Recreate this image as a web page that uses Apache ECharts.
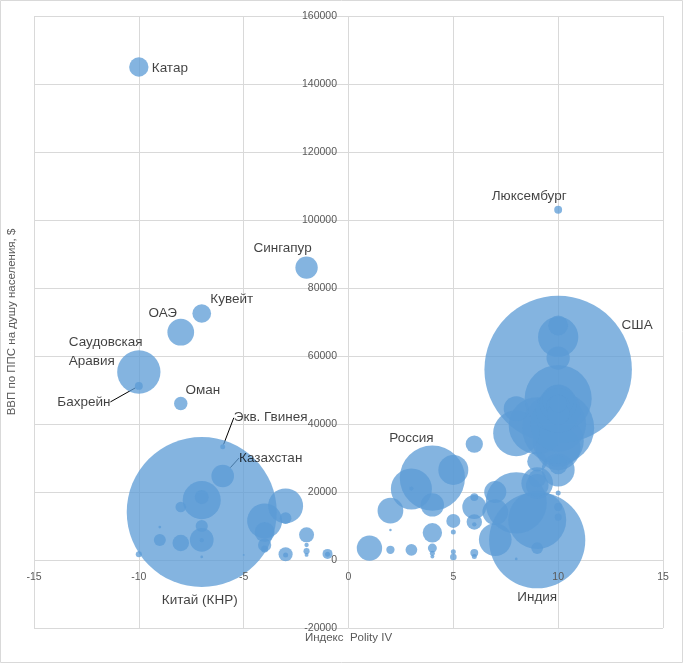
<!DOCTYPE html>
<html><head><meta charset="utf-8">
<script src="https://cdn.jsdelivr.net/npm/echarts@6/dist/echarts.min.js"></script>
<style>html,body{margin:0;padding:0;background:#fff}#c{width:684px;height:664px}</style>
</head><body><div id="c"></div>
<script>
// Polity IV index (x), GDP PPP per capita $ (y), total GDP PPP, bn $ (bubble area)
const names = [
  'Катар','Люксембург','Сингапур','Кувейт','ОАЭ','Саудовская Аравия','Оман','Китай (КНР)','Россия','США','Индия',
  '','','','','','','','','','','','','','','','','','','','','','','','','','',
  '','','','','','','','','','','','','','','','','','','','','','','','','','',
  '','','','','','','','','','','','','','','','','','','','','','','','','','','','','','',''
];
const polity = [
  -10,10,-2,-7,-8,-10,-8,-7,4,10,9,
  -7,-7,-8,-7,-7,-7,-8,-9,-9,-10,-7,-5,-4,-4,-4,-4,-3,-3,-3,-3,-2,-2,-2,-2,-1,-1,
  5,3,3,4,2,2,4,1,2,3,4,4,4,5,5,5,5,6,6,6,6,6,6,6,7,7,
  8,9,9,8,10,10,10,9,10,9,10,10,10,9,10,10,8,8,10,10,10,10,10,10,10,10,10,10,9,9,7
];
const gdpPerCapita = [
  145000,103000,86000,72500,67000,55300,46000,14100,24100,56000,5800,
  17600,18500,15600,10000,5900,5800,5000,5900,9700,1700,900,1500,11500,8200,4400,3200,15900,12300,1700,1500,7400,4400,2600,1500,1800,1700,
  26500,20900,21000,16200,14500,8800,8000,3500,3000,3000,3500,2000,1000,11500,8200,2400,900,34100,18500,15600,11200,10500,2100,1000,6000,14100,
  16800,11800,3500,300,19700,15600,12600,22600,26500,29000,28000,33000,35000,39500,40000,38800,37300,44500,47500,44000,46000,47000,45000,59400,65600,69000,43000,46000,24000,22000,20000,27000,41000
];
const gdpTotal = [
  300,50,400,280,570,1500,145,18000,3400,17400,7400,
  1160,160,90,120,450,15,220,115,6,30,6,3,980,320,140,40,980,110,160,20,180,15,30,12,80,20,
  720,1350,15,435,530,5,300,515,55,110,65,20,12,157,20,20,35,240,50,460,190,15,50,20,855,530,
  3000,2700,110,6,20,50,40,800,870,320,290,1600,2100,2600,2500,4150,1700,500,3600,1600,1100,800,450,435,1300,320,390,250,250,410,390,35,300
];
// points with leader lines
const leaderNames = ['Бахрейн','Экв. Гвинея','Казахстан'];
const leaderPolity = [-10,-6,-6];
const leaderGdpPerCapita = [51200,33300,24700];
const leaderGdpTotal = [50,20,410];

const labelOffsets = {
  'Катар':[31,1],'Люксембург':[-29,-14],'Сингапур':[-24,-19],'Кувейт':[30,-14],'ОАЭ':[-18,-19],
  'Оман':[22,-13],'Китай (КНР)':[-2,88],'Россия':[-21,-40],'США':[79,-44],'Индия':[0,57]
};
const leaderShift = [[-55,16],[48,-29],[48,-18]];

const sizeFn = v => 150 * Math.sqrt(v[2] / 18000);
const labelFont = {color:'#000', fontSize:13.5, fontFamily:'Liberation Sans'};

const mainData = names.map((n,i) => {
  const item = {name:n, value:[polity[i], gdpPerCapita[i], gdpTotal[i]]};
  if (n === 'Саудовская Аравия') {
    item.label = Object.assign({show:true, position:'inside', formatter:'Саудовская\nАравия', align:'left', offset:[-70,-20], lineHeight:19}, labelFont);
  } else if (labelOffsets[n]) {
    item.label = Object.assign({show:true, position:'inside', formatter:'{b}', offset:labelOffsets[n]}, labelFont);
  }
  return item;
});
const leaderData = leaderNames.map((n,i) => ({name:n, value:[leaderPolity[i], leaderGdpPerCapita[i], leaderGdpTotal[i]]}));

const gridColor = '#d9d9d9', axisText = '#595959';
const xBase = {type:'value', min:-15, max:15, interval:5, position:'bottom', offset:-68, axisLine:{show:false}, axisTick:{show:false}};
const yBase = {type:'value', min:-20000, max:160000, interval:20000, position:'left', offset:-315, axisLine:{show:false}, axisTick:{show:false}};

const bubbleStyle = {color:'#5b9bd5', opacity:0.75};
const chart = echarts.init(document.getElementById('c'), null, {renderer:'canvas'});
chart.setOption({
  animation:false,
  textStyle:{fontFamily:'Liberation Sans'},
  graphic:[{type:'rect', silent:true, shape:{x:0.5,y:0.5,width:682,height:662}, style:{fill:null, stroke:gridColor, lineWidth:1}}],
  grid:{left:34, right:21, top:16, bottom:36, containLabel:false, outerBoundsMode:'none'},
  xAxis:[
    Object.assign({}, xBase, {z:0, axisLabel:{show:false}, splitLine:{lineStyle:{color:gridColor}}}),
    Object.assign({}, xBase, {z:10, splitLine:{show:false},
      axisLabel:{color:axisText, fontSize:10.5, margin:12},
      name:'Индекс  Polity IV', nameLocation:'middle', nameGap:72,
      nameTextStyle:{color:axisText, fontSize:11.5}})
  ],
  yAxis:[
    Object.assign({}, yBase, {z:0, axisLabel:{show:false}, splitLine:{lineStyle:{color:gridColor}}}),
    Object.assign({}, yBase, {z:10, splitLine:{show:false},
      axisLabel:{color:axisText, fontSize:10.5, margin:12, formatter:v => String(v)},
      name:'ВВП по ППС на душу населения, $', nameLocation:'middle', nameGap:331,
      nameTextStyle:{color:axisText, fontSize:11.5}})
  ],
  series:[
    {type:'scatter', xAxisIndex:0, yAxisIndex:0, data:mainData, symbolSize:sizeFn, itemStyle:bubbleStyle, emphasis:{disabled:true}, label:{show:false}},
    {type:'scatter', xAxisIndex:0, yAxisIndex:0, data:leaderData, symbolSize:sizeFn, itemStyle:bubbleStyle, emphasis:{disabled:true},
     label:Object.assign({show:true, position:'inside', formatter:'{b}'}, labelFont),
     labelLayout:p => ({dx:leaderShift[p.dataIndex][0], dy:leaderShift[p.dataIndex][1]}),
     labelLine:{show:true, lineStyle:{color:'#000', width:1}}}
  ]
});
</script></body></html>
